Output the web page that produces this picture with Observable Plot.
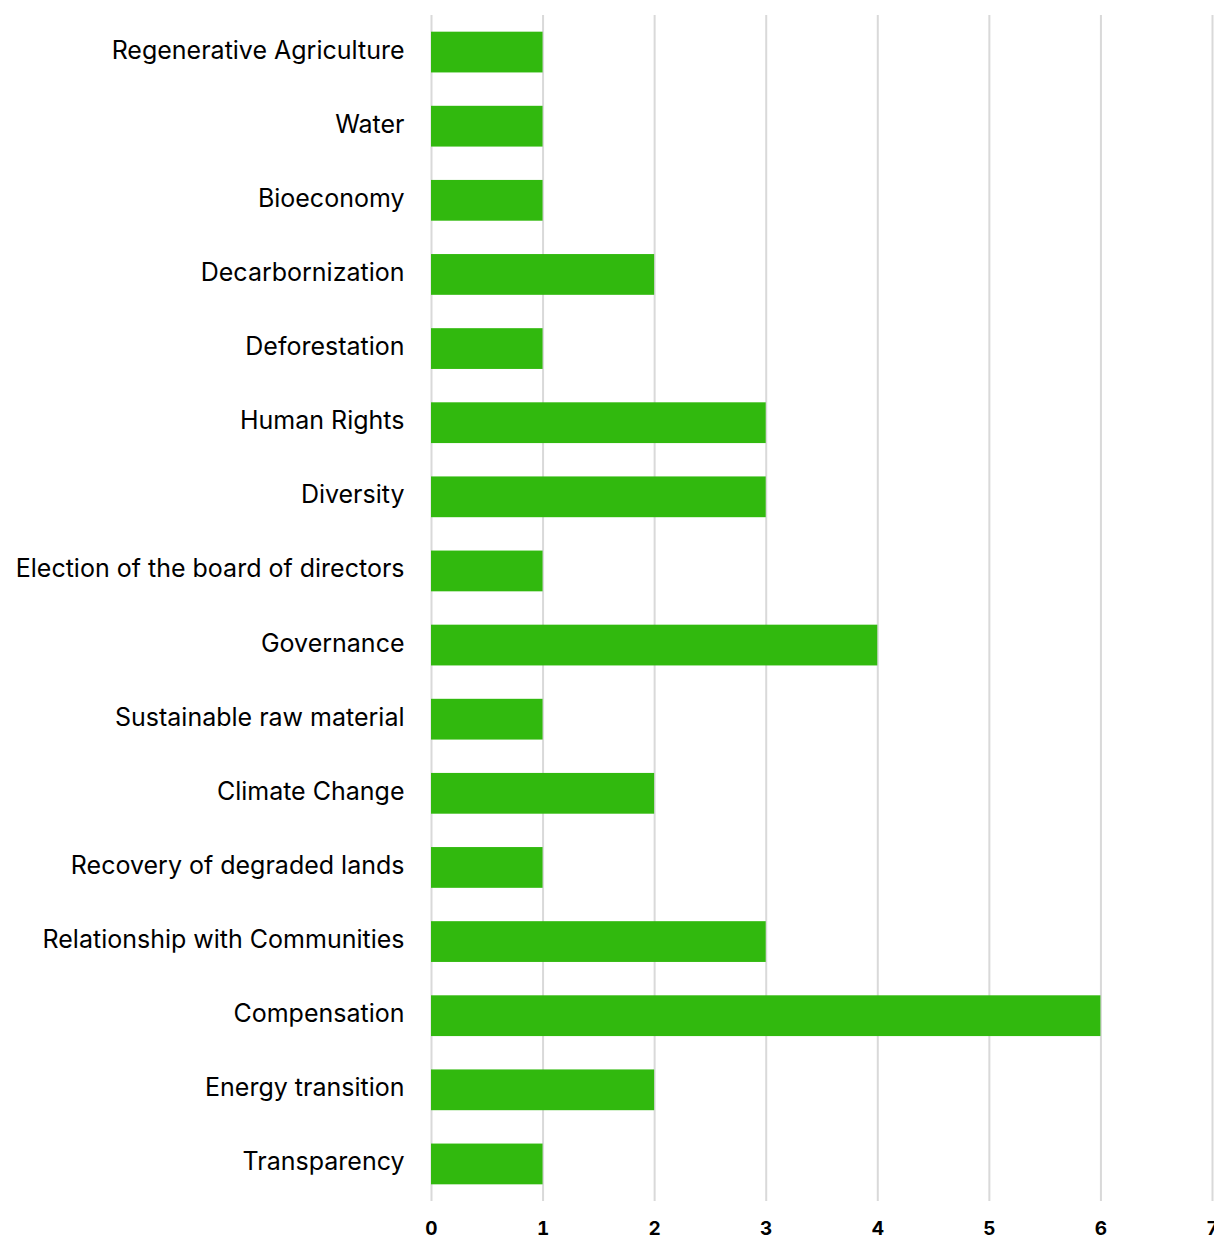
<!DOCTYPE html>
<html>
<head>
<meta charset="utf-8">
<script src="https://cdn.jsdelivr.net/npm/d3@7"></script>
<script src="https://cdn.jsdelivr.net/npm/@observablehq/plot@0.6"></script>
<style>
  html, body { margin: 0; padding: 0; background: #fff; }
  #chart svg { display: block; }
</style>
</head>
<body>
<div id="chart"></div>
<script>
const categories = [
  "Regenerative Agriculture",
  "Water",
  "Bioeconomy",
  "Decarbornization",
  "Deforestation",
  "Human Rights",
  "Diversity",
  "Election of the board of directors",
  "Governance",
  "Sustainable raw material",
  "Climate Change",
  "Recovery of degraded lands",
  "Relationship with Communities",
  "Compensation",
  "Energy transition",
  "Transparency"
];
const values = [1, 1, 1, 2, 1, 3, 3, 1, 4, 1, 2, 1, 3, 6, 2, 1];
const xTicks = [0, 1, 2, 3, 4, 5, 6, 7];

const data = categories.map((c, i) => ({category: c, value: values[i]}));

const chart = Plot.plot({
  width: 1214,
  height: 1242,
  marginLeft: 431,
  marginRight: 2,
  marginTop: 15,
  marginBottom: 41,
  style: {fontFamily: "Inter, 'Noto Sans', sans-serif", background: "#fff"},
  x: {domain: [0, 7]},
  y: {domain: categories, paddingInner: 0.45, paddingOuter: 0.225, round: false},
  marks: [
    Plot.gridX(xTicks, {stroke: "#d9d9d9", strokeOpacity: 1, strokeWidth: 2}),
    Plot.barX(data, {x: "value", y: "category", fill: "#31b90e"}),
    Plot.axisX(xTicks, {tickSize: 0, tickPadding: 20, fontSize: 19, fontWeight: "bold", fill: "#000", label: null, tickFormat: d => String(d)}),
    Plot.axisY({tickSize: 0, tickPadding: 27, fontSize: 25, fill: "#000", label: null, dy: -2})
  ]
});
document.getElementById("chart").appendChild(chart);
</script>
</body>
</html>
